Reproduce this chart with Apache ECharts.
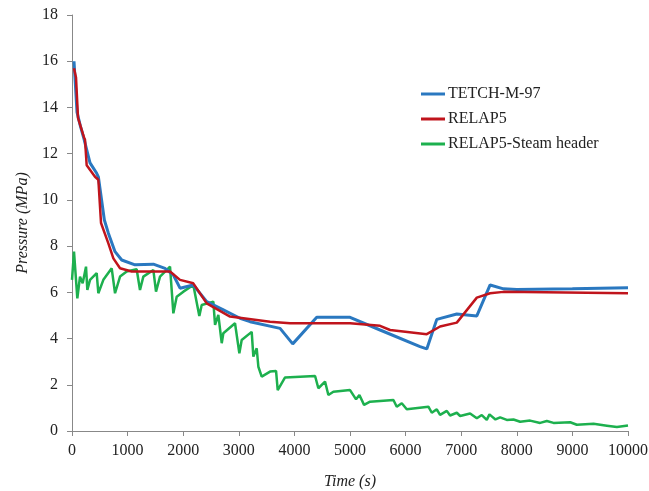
<!DOCTYPE html>
<html><head><meta charset="utf-8">
<script src="https://cdn.jsdelivr.net/npm/echarts@6/dist/echarts.min.js"></script>
<style>html,body{margin:0;padding:0;background:#fff}#c{width:649px;height:491px}</style>
</head><body><div id="c"></div>
<script>
var seriesNames = ['TETCH-M-97', 'RELAP5', 'RELAP5-Steam header'];
var xTicks = [0,1000,2000,3000,4000,5000,6000,7000,8000,9000,10000];
var yTicks = [0,2,4,6,8,10,12,14,16,18];

var tetchTime = [36,90,150,220,282,324,444,474,582,654,774,894,1133,1463,1673,1823,1943,2182,2423,2722,3022,3202,3742,3970,4402,5001,5541,6260,6381,6561,6921,7281,7520,7760,8000,9000,10000];
var tetchP    = [16.0,13.8,13.2,12.6,12.0,11.6,11.15,11.0,9.13,8.56,7.76,7.4,7.19,7.22,7.04,6.75,6.18,6.32,5.6,5.24,4.88,4.73,4.44,3.77,4.92,4.92,4.37,3.65,3.55,4.83,5.06,4.98,6.32,6.15,6.12,6.15,6.2];

var relapTime = [36,72,108,216,234,264,414,474,522,654,744,864,1073,1673,1763,1943,2182,2423,2842,3562,3922,5001,5541,5721,6381,6620,6921,7281,7520,7760,10000];
var relapP    = [15.7,15.3,13.55,12.7,12.6,11.5,11.0,10.87,9.0,8.12,7.47,7.04,6.9,6.9,6.9,6.54,6.39,5.52,4.95,4.73,4.66,4.66,4.55,4.37,4.19,4.52,4.69,5.77,5.96,6.02,5.96];

var steamTime = [0,36,96,144,192,252,276,324,444,474,564,714,774,864,984,1163,1223,1283,1463,1511,1583,1763,1823,1883,2003,2182,2290,2333,2542,2573,2632,2693,2722,2932,3010,3052,3232,3262,3322,3352,3412,3562,3670,3700,3832,4372,4431,4551,4611,4701,5001,5109,5169,5253,5361,5781,5841,5931,6021,6410,6471,6561,6620,6741,6800,6921,6981,7160,7281,7370,7460,7508,7616,7700,7820,7940,8060,8240,8420,8540,8660,8960,9080,9380,9620,9800,10000];
var steamP    = [6.54,7.76,5.74,6.68,6.39,7.11,6.1,6.54,6.83,5.96,6.54,7.04,5.96,6.68,6.9,7.0,6.1,6.68,6.97,6.03,6.68,7.11,5.09,5.81,6.03,6.32,4.98,5.45,5.6,4.59,5.02,3.8,4.23,4.66,3.36,3.94,4.29,3.22,3.58,2.78,2.35,2.57,2.6,1.77,2.32,2.38,1.85,2.14,1.56,1.7,1.77,1.37,1.56,1.13,1.27,1.34,1.05,1.2,0.94,1.05,0.79,0.94,0.7,0.87,0.67,0.79,0.65,0.76,0.55,0.69,0.48,0.72,0.5,0.59,0.48,0.5,0.4,0.45,0.35,0.43,0.35,0.38,0.27,0.31,0.23,0.17,0.24];

function pairs(t, p) { return t.map(function (v, i) { return [v, p[i]]; }); }

var font = '"Liberation Serif","DejaVu Serif",serif';
var colors = ['#2a78c0', '#c0141c', '#1db04e'];
var chart = echarts.init(document.getElementById('c'));
function lineSeries(idx, t, p, w, z) {
  return { name: seriesNames[idx], type: 'line', data: pairs(t, p), showSymbol: false, symbol: 'none',
    itemStyle: { color: colors[idx] }, lineStyle: { width: w, color: colors[idx] }, z: z };
}
chart.setOption({
  animation: false,
  grid: { left: 72, right: 21, top: 15, bottom: 60, containLabel: false, outerBoundsMode: 'none' },
  legend: {
    orient: 'vertical', left: 416, top: 81,
    itemWidth: 24, itemHeight: 3, itemGap: 9, icon: 'rect',
    textStyle: { fontFamily: font, fontSize: 16, color: '#222', padding: [0, 0, 0, -2] },
    data: seriesNames
  },
  xAxis: {
    type: 'value', min: 0, max: 10000, interval: 1000,
    name: 'Time (s)', nameLocation: 'middle', nameGap: 43,
    nameTextStyle: { fontFamily: font, fontSize: 16, fontStyle: 'italic', color: '#222' },
    axisLine: { lineStyle: { color: '#888', width: 1 } },
    axisTick: { show: true, inside: false, length: 5, lineStyle: { color: '#888' } },
    axisLabel: { fontFamily: font, fontSize: 16, color: '#222', margin: 12,
      formatter: function (v) { return xTicks.indexOf(v) >= 0 ? String(v) : ''; } },
    splitLine: { show: false }
  },
  yAxis: {
    type: 'value', min: 0, max: 18, interval: 2,
    name: 'Pressure (MPa)', nameLocation: 'middle', nameGap: 34,
    nameTextStyle: { fontFamily: font, fontSize: 16, fontStyle: 'italic', color: '#222' },
    axisLine: { show: true, lineStyle: { color: '#888', width: 1 } },
    axisTick: { show: true, inside: false, length: 5, lineStyle: { color: '#888' } },
    axisLabel: { fontFamily: font, fontSize: 16, color: '#222', margin: 14,
      formatter: function (v) { return yTicks.indexOf(v) >= 0 ? String(v) : ''; } },
    splitLine: { show: false }
  },
  series: [
    lineSeries(0, tetchTime, tetchP, 3, 3),
    lineSeries(1, relapTime, relapP, 2.5, 4),
    lineSeries(2, steamTime, steamP, 2.5, 2)
  ]
});
</script>
</body></html>
